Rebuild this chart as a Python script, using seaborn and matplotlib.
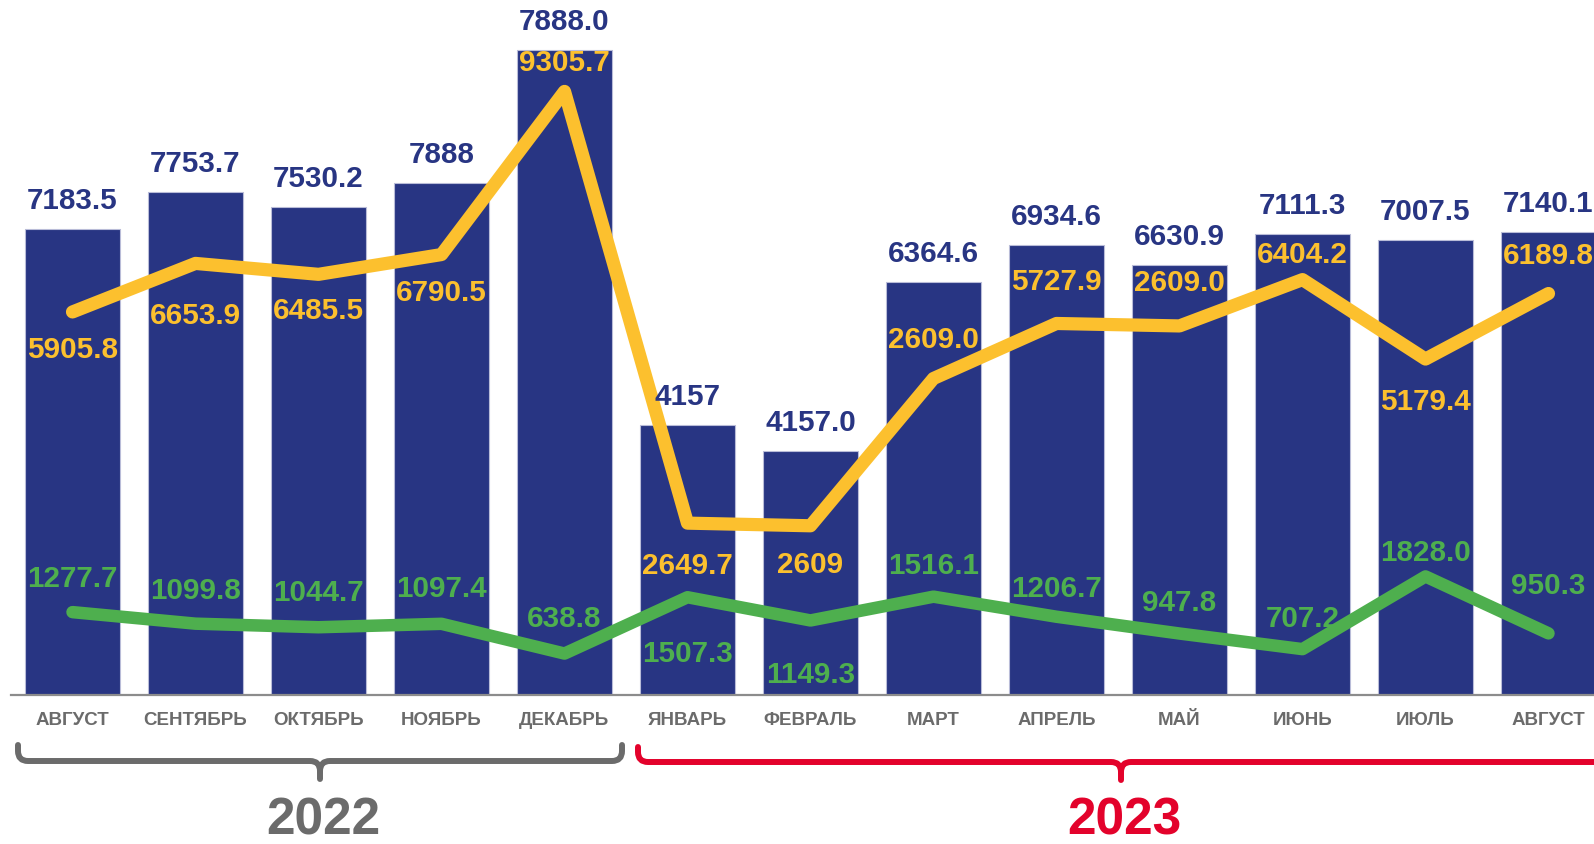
import matplotlib
matplotlib.use("Agg")
import matplotlib.pyplot as plt
from matplotlib.path import Path
from matplotlib.patches import PathPatch
import seaborn as sns
import numpy as np

# data
months = ["АВГУСТ", "СЕНТЯБРЬ", "ОКТЯБРЬ", "НОЯБРЬ", "ДЕКАБРЬ", "ЯНВАРЬ", "ФЕВРАЛЬ",
          "МАРТ", "АПРЕЛЬ", "МАЙ", "ИЮНЬ", "ИЮЛЬ", "АВГУСТ"]
bar_values = [7183.5, 7753.7, 7530.2, 7888, 9950, 4157, 3760,
              6364.6, 6934.6, 6630.9, 7111.3, 7007.5, 7140.1]
bar_labels = ["7183.5", "7753.7", "7530.2", "7888", "7888.0", "4157", "4157.0",
              "6364.6", "6934.6", "6630.9", "7111.3", "7007.5", "7140.1"]
yellow_values = [5905.8, 6653.9, 6485.5, 6790.5, 9305.7, 2649.7, 2609,
                 4880, 5727.9, 5690, 6404.2, 5179.4, 6189.8]
yellow_labels = ["5905.8", "6653.9", "6485.5", "6790.5", "9305.7", "2649.7", "2609",
                 "2609.0", "5727.9", "2609.0", "6404.2", "5179.4", "6189.8"]
green_values = [1277.7, 1099.8, 1044.7, 1097.4, 638.8, 1507.3, 1149.3,
                1516.1, 1206.7, 947.8, 707.2, 1828.0, 950.3]
green_labels = ["1277.7", "1099.8", "1044.7", "1097.4", "638.8", "1507.3", "1149.3",
                "1516.1", "1206.7", "947.8", "707.2", "1828.0", "950.3"]

NAVY = "#283583"
YELLOW = "#FCC02E"
GREEN = "#4EAF4E"
GRAY = "#6B6B6B"
RED = "#E3022B"

sns.set_style("white")
plt.rcParams["font.family"] = ["Liberation Sans", "DejaVu Sans"]

fig = plt.figure(figsize=(15.94, 8.44), dpi=100)
ax = fig.add_axes([11 / 1594, 149 / 844, 1 - 11 / 1594, 695 / 844])

idx = np.arange(len(months))
sns.barplot(x=idx, y=bar_values, color=NAVY, saturation=1, width=0.77,
            edgecolor="#b9bcd8", linewidth=0.8, ax=ax, zorder=2)
sns.lineplot(x=idx, y=yellow_values, color=YELLOW, lw=9.5, ax=ax, zorder=3,
             solid_capstyle="round", solid_joinstyle="round")
sns.lineplot(x=idx, y=green_values, color=GREEN, lw=9, ax=ax, zorder=3,
             solid_capstyle="round", solid_joinstyle="round")

# label offsets in pixels (up is positive)
yellow_off = [-37, -52, -36, -38, 28, -42, -39, 38, 41, 42, 24, -42, 37]
green_off = [33, 32, 34, 34, 34, -56, -54, 30, 27, 30, 30, 23, 47]

lab_kw = dict(textcoords="offset pixels", ha="center", va="center",
              fontsize=21.3, fontweight="bold", zorder=5, annotation_clip=False)
for i in idx:
    ax.annotate(bar_labels[i], (i, bar_values[i]), xytext=(0, 28), color=NAVY, **lab_kw)
    ax.annotate(yellow_labels[i], (i, yellow_values[i]), xytext=(0, yellow_off[i] * 1.017),
                color=YELLOW, **lab_kw)
    ax.annotate(green_labels[i], (i, green_values[i]), xytext=(0, green_off[i] * 1.017),
                color=GREEN, **lab_kw)

ax.set_xlim(-0.5, 12.37)
ax.set_ylim(0, 10715)
ax.set_yticks([])
ax.set_xticks(idx)
ax.set_xticklabels(months, fontsize=13.5, fontweight="bold", color=GRAY)
ax.tick_params(axis="x", length=0, pad=12)
for s in ["top", "left", "right"]:
    ax.spines[s].set_visible(False)
ax.spines["bottom"].set_color("#8C8C8C")
ax.spines["bottom"].set_linewidth(1.6)
ax.patch.set_alpha(0)

# year braces in figure pixel space
ov = fig.add_axes([0, 0, 1, 1], zorder=10)
ov.set_xlim(0, 1594)
ov.set_ylim(844, 0)
ov.axis("off")


def brace(x0, x1, xc, ytop, yh, ytip, color, right_end=True):
    r = 10
    verts = [(x0, ytop), (x0, yh - r), (x0, yh), (x0 + r, yh),
             (xc - r, yh), (xc, yh), (xc, yh + r), (xc, ytip)]
    codes = [Path.MOVETO, Path.LINETO, Path.CURVE3, Path.CURVE3,
             Path.LINETO, Path.CURVE3, Path.CURVE3, Path.LINETO]
    verts += [(xc, yh + r), (xc, yh), (xc + r, yh)]
    codes += [Path.MOVETO, Path.CURVE3, Path.CURVE3]
    if right_end:
        verts += [(x1 - r, yh), (x1, yh), (x1, yh - r), (x1, ytop)]
        codes += [Path.LINETO, Path.CURVE3, Path.CURVE3, Path.LINETO]
    else:
        verts += [(x1, yh)]
        codes += [Path.LINETO]
    ov.add_patch(PathPatch(Path(verts, codes), fill=False, edgecolor=color,
                           lw=4.3, capstyle="round", joinstyle="round"))


brace(18, 622, 320, 745, 761, 779, GRAY)
brace(638, 1610, 1121, 747, 762, 780, RED, right_end=False)
ov.text(323, 821, "2022", ha="center", va="center", fontsize=37,
        fontweight="bold", color=GRAY)
ov.text(1124, 821, "2023", ha="center", va="center", fontsize=37,
        fontweight="bold", color=RED)

fig.savefig("out.png", dpi=100)
